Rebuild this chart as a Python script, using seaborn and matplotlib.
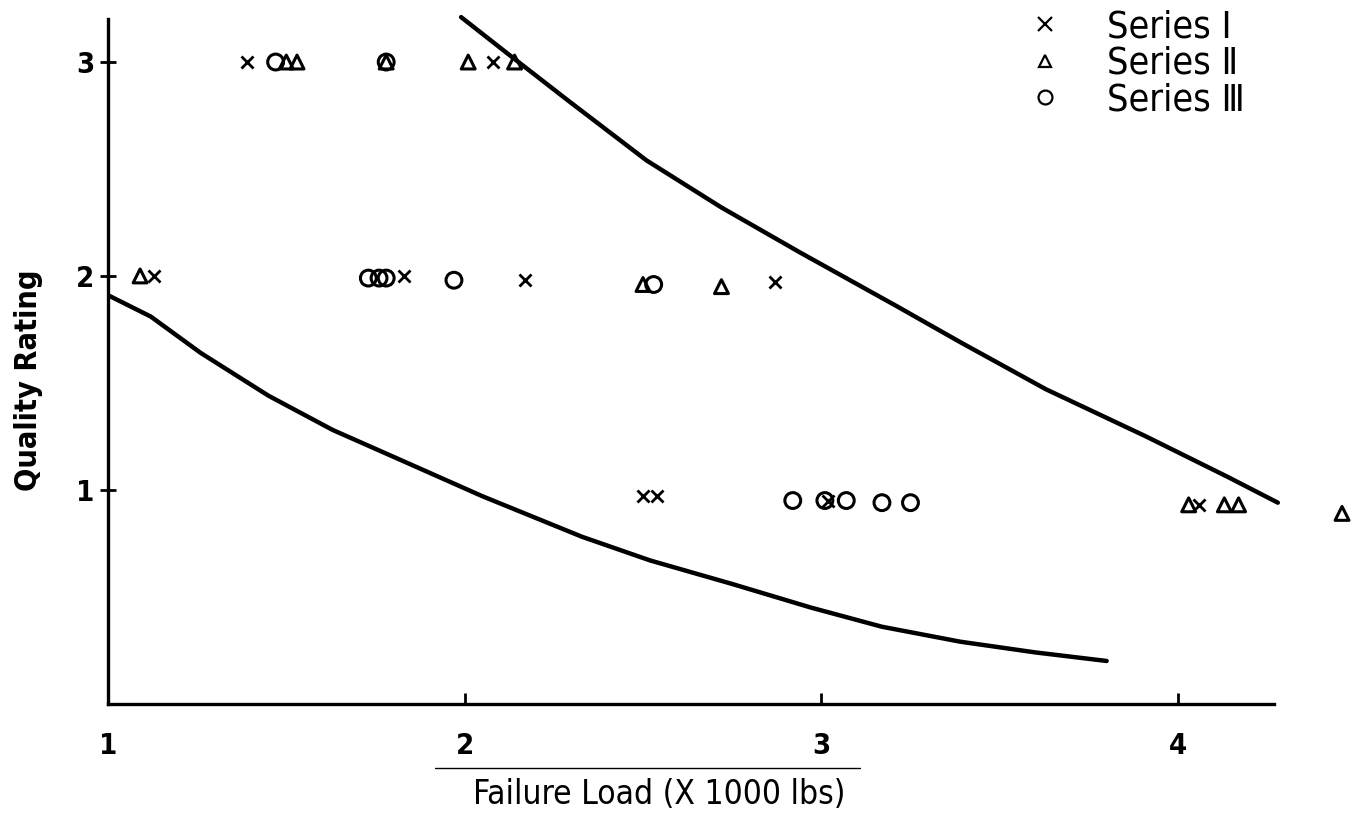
import matplotlib
matplotlib.use("Agg")
import matplotlib.pyplot as plt
import seaborn as sns
from matplotlib.lines import Line2D

# data (failure load in 1000 lbs, quality rating)
series1_load = [1.39, 2.08, 1.13, 1.83, 2.17, 2.87, 2.50, 2.54, 3.02, 4.06]
series1_rating = [3.0, 3.0, 2.0, 2.0, 1.98, 1.97, 0.97, 0.97, 0.95, 0.93]

series2_load = [1.50, 1.53, 1.78, 2.01, 2.14, 1.09, 2.50, 2.72, 4.03, 4.13, 4.17, 4.46]
series2_rating = [3.0, 3.0, 3.0, 3.0, 3.0, 2.0, 1.96, 1.95, 0.93, 0.93, 0.93, 0.89]

series3_load = [1.47, 1.78, 1.73, 1.76, 1.78, 1.97, 2.53, 2.92, 3.01, 3.07, 3.17, 3.25]
series3_rating = [3.0, 3.0, 1.99, 1.99, 1.99, 1.98, 1.96, 0.95, 0.95, 0.95, 0.94, 0.94]

# hand-drawn envelope curves
upper_load = [1.99, 2.12, 2.29, 2.51, 2.72, 2.94, 3.21, 3.39, 3.63, 3.91, 4.14, 4.28]
upper_rating = [3.21, 3.04, 2.82, 2.54, 2.32, 2.11, 1.86, 1.69, 1.47, 1.25, 1.06, 0.94]
lower_load = [1.00, 1.12, 1.26, 1.45, 1.63, 1.82, 2.05, 2.33, 2.52, 2.75, 2.97,
              3.17, 3.39, 3.60, 3.80]
lower_rating = [1.91, 1.81, 1.64, 1.44, 1.28, 1.14, 0.97, 0.78, 0.67, 0.56, 0.45,
                0.36, 0.29, 0.24, 0.20]

x_ticks = [1, 2, 3, 4]
y_ticks = [1, 2, 3]
series_names = ["Series \u2160", "Series \u2161", "Series \u2162"]

sns.set_style("ticks")
plt.rcParams["font.family"] = ["DejaVu Sans"]
plt.rcParams["font.stretch"] = "condensed"
plt.rcParams["text.color"] = "black"
plt.rcParams["axes.labelcolor"] = "black"
plt.rcParams["xtick.color"] = "black"
plt.rcParams["ytick.color"] = "black"
plt.rcParams["axes.edgecolor"] = "black"

fig = plt.figure(figsize=(13.67, 8.26), dpi=100)
ax = fig.add_axes([0.079, 0.148, 0.921, 0.852])

sns.lineplot(x=upper_load, y=upper_rating, ax=ax, color="black", lw=3.2,
             sort=False, estimator=None)
sns.lineplot(x=lower_load, y=lower_rating, ax=ax, color="black", lw=3.2,
             sort=False, estimator=None)

sns.scatterplot(x=series1_load, y=series1_rating, ax=ax, marker="x",
                color="black", s=75, linewidth=2, zorder=3)
sns.scatterplot(x=series2_load, y=series2_rating, ax=ax, marker="^",
                facecolor="none", edgecolor="black", s=100, linewidth=2.2, zorder=3)
sns.scatterplot(x=series3_load, y=series3_rating, ax=ax, marker="o",
                facecolor="none", edgecolor="black", s=130, linewidth=2.2, zorder=3)

ax.set_xlim(1, 4.53)
ax.set_ylim(0, 3.29)
ax.spines["top"].set_visible(False)
ax.spines["right"].set_visible(False)
for side in ["left", "bottom"]:
    ax.spines[side].set_linewidth(2.4)
ax.spines["left"].set_bounds(0, 3.2)
ax.spines["bottom"].set_bounds(1, 4.27)

ax.set_xticks(x_ticks)
ax.set_yticks(y_ticks)
ax.tick_params(axis="y", direction="inout", length=12, width=2, pad=4,
               labelsize=21)
ax.tick_params(axis="x", direction="in", length=8, width=2, pad=20,
               labelsize=21)
for lab in ax.get_xticklabels() + ax.get_yticklabels():
    lab.set_fontweight("bold")

ax.set_xlabel("Failure Load (X 1000 lbs)", fontsize=24)
ax.xaxis.set_label_coords(0.438, -0.105)
ax.set_ylabel("Quality Rating", fontsize=22, fontweight="bold")
ax.yaxis.set_label_coords(-0.052, 0.46)

handles = [
    Line2D([], [], marker="x", ls="none", color="black", ms=10, mew=1.6),
    Line2D([], [], marker="^", ls="none", mfc="none", mec="black", ms=9, mew=1.6),
    Line2D([], [], marker="o", ls="none", mfc="none", mec="black", ms=10, mew=1.6),
]
ax.legend(handles, series_names, loc="upper left", bbox_to_anchor=(0.695, 1.035),
          frameon=False, fontsize=27, handlelength=1.5, handletextpad=0.9,
          labelspacing=0.02)

# faint scan artifact under the axis labels
fig.add_artist(Line2D([435 / 1367, 860 / 1367], [1 - 768 / 826] * 2,
                      transform=fig.transFigure, color="black", lw=1))

fig.savefig("out.png", dpi=100)
